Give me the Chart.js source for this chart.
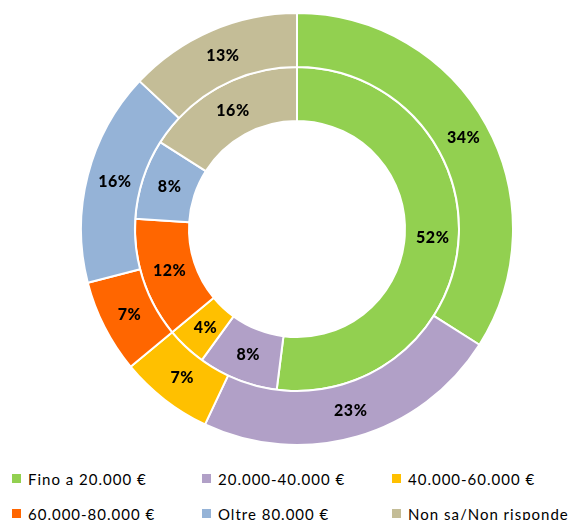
<!DOCTYPE html>
<html lang="it">
<head>
    <meta charset="UTF-8">
    <title>Reddito familiare</title>
    <style>
        html, body { margin: 0; padding: 0; background: #fff; }
        body { width: 572px; height: 520px; position: relative; overflow: hidden; font-family: Lato, sans-serif; }
        #chartBox { position: absolute; left: 80px; top: 12px; width: 434px; height: 434px; }
        .legend { position: absolute; left: 0; top: 0; }
        .legend-item { position: absolute; font-size: 15px; letter-spacing: 1px; color: #000; white-space: nowrap; line-height: 18px; }
        .legend-item i { position: absolute; left: -16px; top: 4px; width: 9px; height: 9px; }
    </style>
</head>
<body>
    <div id="chartBox"><canvas id="myChart" width="434" height="434"></canvas></div>
    <div class="legend" id="legend"></div>

    <script src="https://cdn.jsdelivr.net/npm/chart.js@4.4.1/dist/chart.umd.min.js"></script>
    <script>
        // categories and the two rings (outer first, like in the picture)
        var categories = ['Fino a 20.000 €', '20.000-40.000 €', '40.000-60.000 €', '60.000-80.000 €', 'Oltre 80.000 €', 'Non sa/Non risponde'];
        var outerValues = [34, 23, 7, 7, 16, 13];
        var innerValues = [52, 8, 4, 12, 8, 16];
        var colors = ['#92D050', '#B1A0C7', '#FFC000', '#FF6600', '#95B3D7', '#C4BD97'];

        // percentage labels in the middle of every slice
        var sliceLabels = {
            id: 'sliceLabels',
            afterDatasetsDraw: function (chart) {
                var ctx = chart.ctx;
                ctx.save();
                ctx.font = '900 16px Lato';
                ctx.letterSpacing = '0.5px';
                ctx.fillStyle = '#000';
                ctx.textAlign = 'center';
                ctx.textBaseline = 'middle';
                chart.data.datasets.forEach(function (ds, i) {
                    chart.getDatasetMeta(i).data.forEach(function (arc, j) {
                        var p = arc.getCenterPoint();
                        ctx.fillText(ds.data[j] + '%', p.x + 1, p.y);
                    });
                });
                ctx.restore();
            }
        };

        new Chart(document.getElementById('myChart'), {
            type: 'doughnut',
            data: {
                labels: categories,
                datasets: [
                    { data: outerValues, backgroundColor: colors, borderColor: '#fff', borderWidth: 2 },
                    { data: innerValues, backgroundColor: colors, borderColor: '#fff', borderWidth: 2 }
                ]
            },
            options: {
                responsive: false,
                animation: false,
                cutout: '50%',
                plugins: {
                    legend: { display: false },
                    tooltip: { enabled: false }
                }
            },
            plugins: [sliceLabels]
        });

        // legend in a 3 column grid
        var legend = document.getElementById('legend');
        var colX = [28, 218, 408];
        var rowY = [470, 505];
        categories.forEach(function (name, i) {
            var item = document.createElement('div');
            item.className = 'legend-item';
            item.style.left = colX[i % 3] + 'px';
            item.style.top = rowY[Math.floor(i / 3)] + 'px';
            item.innerHTML = '<i style="background:' + colors[i] + '"></i>' + name;
            legend.appendChild(item);
        });
    </script>
</body>
</html>
